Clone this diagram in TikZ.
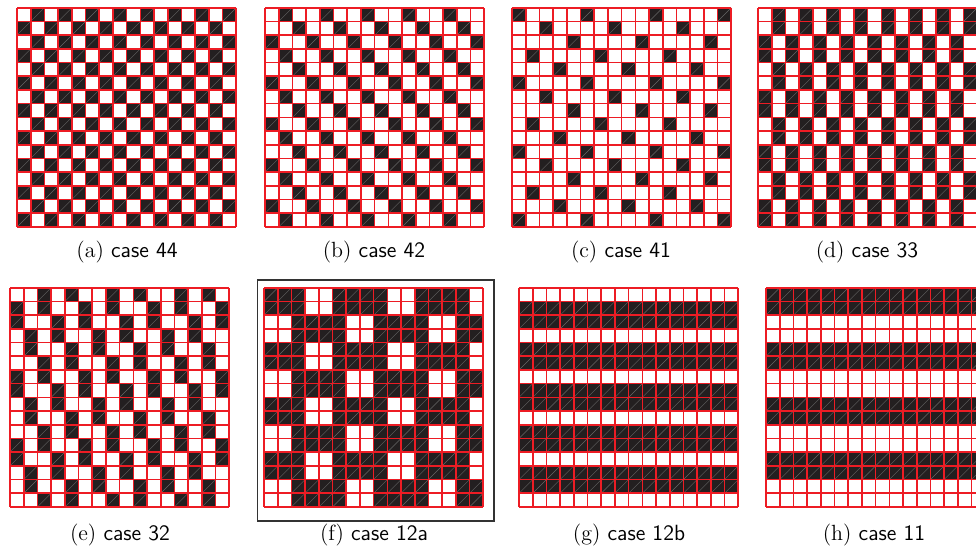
\documentclass[tikz,border=0pt]{standalone}
\usepackage{tikz}
\definecolor{cellblack}{RGB}{35,31,32}
\definecolor{linered}{RGB}{237,28,36}
\tikzset{gridline/.style={linered,line width=0.8pt},
  hatchline/.style={black!60,line width=0.2pt},
  caption/.style={font=\fontsize{11}{13}\selectfont},
  framebox/.style={black!80,line width=0.6pt}}
\newcommand{\cellgrid}[3]{%
\begin{scope}[shift={(#1,#2)},x=6.85pt,y=6.85pt]
\foreach \row in {0,...,15}{\foreach \col in {0,...,15}{%
  \pgfmathtruncatemacro{\isblack}{#3}%
  \ifnum\isblack=1 \fill[cellblack] (\col,15-\row) rectangle ++(1,1); \draw[hatchline] (\col,15-\row) -- ++(1,1); \fi}}
\foreach \k in {0,...,16}{\draw[gridline] (\k,0)--(\k,16) (0,\k)--(16,\k);}
\end{scope}}

\begin{document}
\begin{tikzpicture}[x=0.5pt,y=0.5pt]
\useasboundingbox (0,0) rectangle (976,560);
\cellgrid{17}{333}{mod(\col+\row,2)==1}
\cellgrid{265}{333}{mod(\col-\row+99,3)==1}
\cellgrid{512}{333}{mod(\col-2*\row+100,5)==0}
\cellgrid{758}{333}{mod(\col+floor(\row/2),2)==1}
\cellgrid{10}{53}{mod(2*\col-\row+100,5)>2}
\cellgrid{264}{53}{mod(\col-3*floor(\row/2)+123,6)>1}
\cellgrid{519}{53}{mod(\row,3)>0}
\cellgrid{766}{53}{mod(floor(\row/2),2)==0}
\draw[framebox] (257.5,39) rectangle (494,280);
\node[caption] (capa) at (127,308) {(a) \textsf{case 44}};
\node[caption] (capb) at (374,308) {(b) \textsf{case 42}};
\node[caption] (capc) at (621,308) {(c) \textsf{case 41}};
\node[caption] (capd) at (867,308) {(d) \textsf{case 33}};
\node[caption] (cape) at (120,25) {(e) \textsf{case 32}};
\node[caption] (capf) at (374,25) {(f) \textsf{case 12a}};
\node[caption] (capg) at (629,25) {(g) \textsf{case 12b}};
\node[caption] (caph) at (874,25) {(h) \textsf{case 11}};
\end{tikzpicture}
\end{document}
